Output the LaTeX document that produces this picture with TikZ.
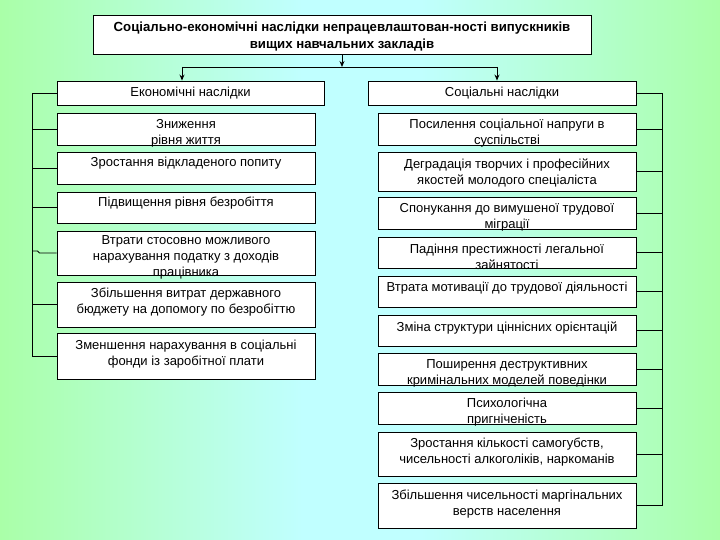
\documentclass[tikz,border=0pt]{standalone}
\usepackage{fontspec}
\setmainfont{Liberation Sans}
\usetikzlibrary{arrows.meta,calc}
\definecolor{gL}{RGB}{153,255,102}
\definecolor{cy}{RGB}{192,255,255}
\pgfdeclarehorizontalshading{bgshade}{100bp}{color(0bp)=(gL); color(9bp)=(gL); color(46bp)=(cy); color(54bp)=(cy); color(91bp)=(gL); color(100bp)=(gL)}
\newcommand{\mybox}[7]{%
  \node[box, minimum width={#4-#2}, minimum height={#5-#3}] (#1) at ({(#2+#4)/2},{(#3+#5)/2}) {};
  \node[txt] (#1t) at ({(#2+#4)/2},#6) {#7};
}
\begin{document}
\begin{tikzpicture}[x=1pt,y=-1pt,
  box/.style={draw=black, line width=0.9pt, fill=white, inner sep=0pt, rectangle},
  txt/.style={inner sep=0pt, align=center, font=\fontsize{13}{16}\selectfont},
  ttl/.style={inner sep=0pt, align=center, font=\bfseries\fontsize{13.2}{17.5}\selectfont},
  con/.style={draw=black, line width=0.9pt},
  arr/.style={con, -{Stealth[length=6pt,width=5pt]}}]
\useasboundingbox (0,0) rectangle (720,540);
\fill[shading=bgshade] (0,0) rectangle (720,540);
% title
\node[box, minimum width=498, minimum height=39] (title) at (342,34.5) {};
\node[ttl] (titlet) at (342,36.5) {Соціально-економічні наслідки непрацевлаштован-ності випускників\\вищих навчальних закладів};
% headers
\mybox{eh}{57}{81}{324}{105}{93}{Економічні наслідки}
\mybox{sh}{368}{81}{636}{105}{93}{Соціальні наслідки}
% left boxes
\mybox{l1}{57}{113}{315}{145}{133.5}{Зниження\\рівня життя}
\mybox{l2}{57}{152}{315}{184}{163}{Зростання відкладеного попиту}
\mybox{l3}{57}{192}{315}{223}{203}{Підвищення рівня безробіття}
\mybox{l4}{57}{231}{315}{275}{257.5}{Втрати стосовно можливого\\нарахування податку з доходів\\працівника}
\mybox{l5}{57}{282}{315}{327}{302.5}{Збільшення витрат державного\\бюджету на допомогу по безробіттю}
\mybox{l6}{57}{333}{315}{379}{354.5}{Зменшення нарахування в соціальні\\фонди із заробітної плати}
% right boxes
\mybox{r1}{378}{113}{636}{145}{133.5}{Посилення соціальної напруги в\\суспільстві}
\mybox{r2}{378}{152}{636}{191}{172.5}{Деградація творчих і професійних\\якостей молодого спеціаліста}
\mybox{r3}{378}{197}{636}{229}{217.5}{Спонукання до вимушеної трудової\\міграції}
\mybox{r4}{378}{237}{636}{268}{256.5}{Падіння престижності легальної\\зайнятості}
\mybox{r5}{378}{276}{636}{307}{288}{Втрата мотивації до трудової діяльності}
\mybox{r6}{378}{315}{636}{346}{328}{Зміна структури ціннісних орієнтацій}
\mybox{r7}{378}{353}{636}{385}{373.5}{Поширення деструктивних\\кримінальних моделей поведінки}
\mybox{r8}{378}{392}{636}{424}{412.5}{Психологічна\\пригніченість}
\mybox{r9}{378}{432}{636}{476}{452.5}{Зростання кількості самогубств,\\чисельності алкоголіків, наркоманів}
\mybox{r10}{378}{483}{636}{528}{504.5}{Збільшення чисельності маргінальних\\верств населення}
% connectors top
\coordinate (jc) at (342,67);
\coordinate (jl) at (182,67);
\coordinate (jr) at (497,67);
\draw[arr] (title.south) -- (jc);
\draw[con] (jl) -- (jr);
\draw[arr] (jl) -- (jl |- eh.north);
\draw[arr] (jr) -- (jr |- sh.north);
% brackets
\coordinate (lb) at (32,0);
\coordinate (rb) at (662,0);
\draw[con] (eh.west) -| (l6.west -| lb) -- (l6.west);
\foreach \n in {l1,l2,l3,l5} {\draw[con] (\n.west) -- (\n.west -| lb);}
\draw[con] (l4.west) -- ([xshift=-17pt]l4.west) -- ([xshift=-19pt,yshift=2pt]l4.west) -- ([yshift=2pt]l4.west -| lb);
\draw[con] (sh.east) -| (r10.east -| rb) -- (r10.east);
\foreach \n in {r1,r2,r3,r4,r5,r6,r7,r8,r9} {\draw[con] (\n.east) -- (\n.east -| rb);}
\end{tikzpicture}
\end{document}
